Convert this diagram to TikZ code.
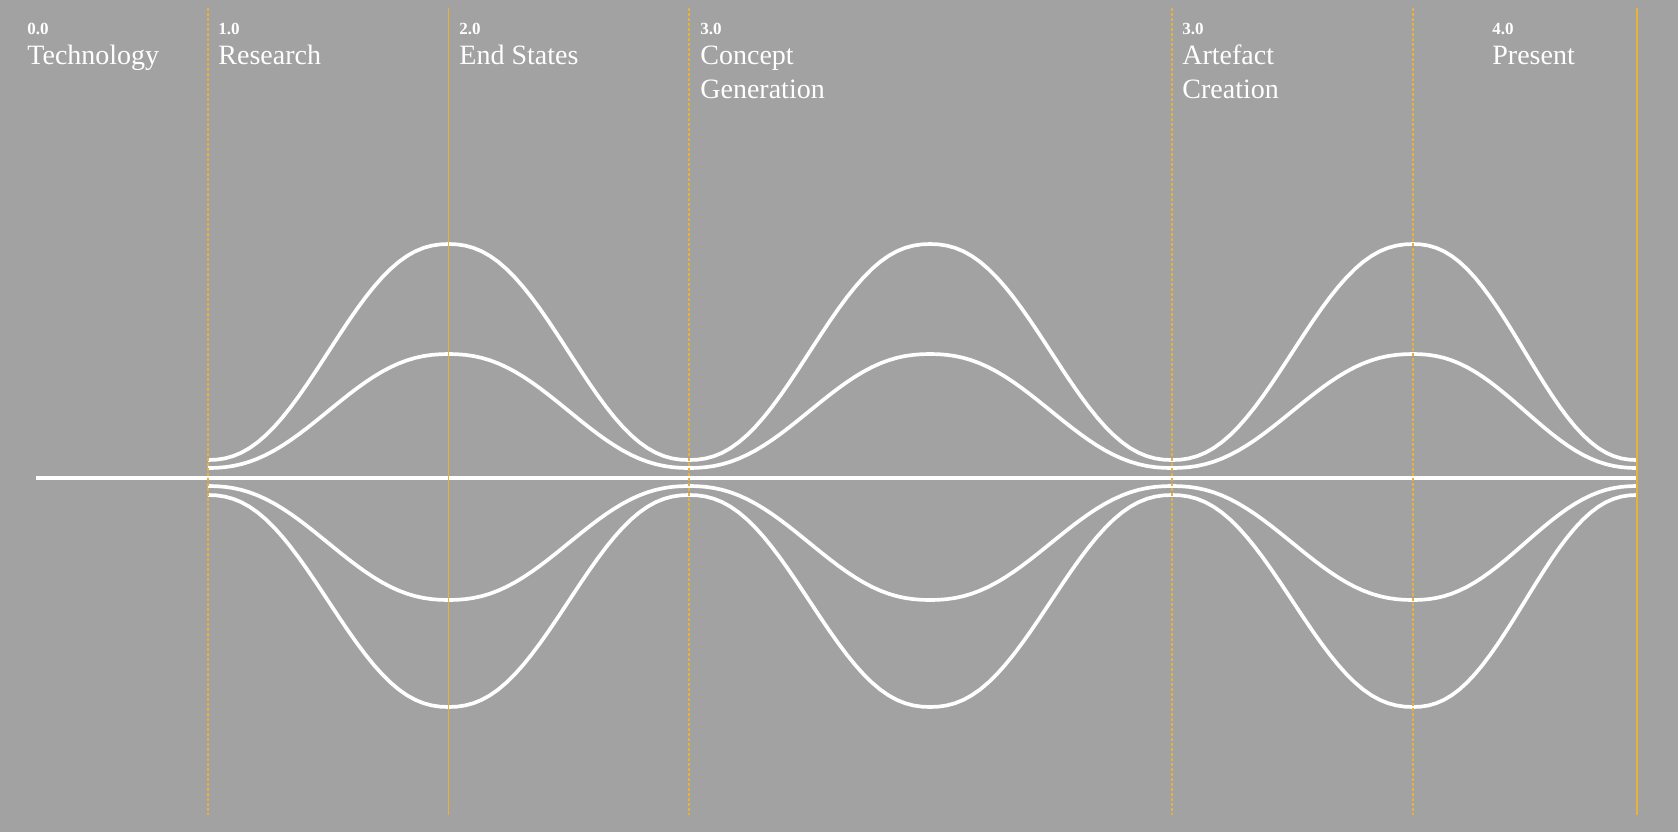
\documentclass[tikz,border=0pt]{standalone}
\usepackage{fontspec}
\setmainfont{Liberation Serif}
\usepackage{tikz}
\usetikzlibrary{positioning}

\definecolor{bggray}{RGB}{162,162,162}
\definecolor{gold}{RGB}{232,178,58}

\begin{document}
\begin{tikzpicture}[x=0.5pt, y=-0.5pt,
        declare function={ease(\t)=0.5*\t*\t*\t*(10-15*\t+6*\t*\t)+0.25*(1-cos(180*\t));},
        num/.style={anchor=base west, inner sep=0pt, text=white, font=\fontsize{8.5}{10}\selectfont\bfseries},
        phase/.style={anchor=base west, inner sep=0pt, text=white, align=left, font=\fontsize{14}{17}\selectfont},
        wave/.style={white, line width=1.85pt},
        axis/.style={white, line width=2pt},
        guide/.style={gold, line width=0.8pt, dash pattern=on 1.5pt off 1pt},
        mark line/.style={gold, line width=0.8pt}]
        \useasboundingbox (0,0) rectangle (1678,832);
        \fill[bggray] (0,0) rectangle (1678,832);

        % headings (base anchor sits on the last line)
        \node[num] (n0) at (27,34.7) {0.0};
        \node[phase] (p0) at (27,64.3) {Technology};
        \node[num] (n1) at (218,34.7) {1.0};
        \node[phase] (p1) at (218,64.3) {Research};
        \node[num] (n2) at (459,34.7) {2.0};
        \node[phase] (p2) at (459,64.3) {End States};
        \node[num] (n3) at (700,34.7) {3.0};
        \node[phase] (p3) at (700,98.3) {Concept\\Generation};
        \node[num] (n4) at (1182,34.7) {3.0};
        \node[phase] (p4) at (1182,98.3) {Artefact\\Creation};
        \node[num] (n5) at (1492,34.7) {4.0};
        \node[phase] (p5) at (1492,64.3) {Present};

        % waves
        \foreach \base/\peak in {460/244, 468/354, 486/600, 495/707}{
            \foreach \xa/\xb [count=\i] in {208/448.5, 448.5/689, 689/930, 930/1172, 1172/1413, 1413/1637}{
                \pgfmathsetmacro\dir{isodd(\i)}
                \draw[wave] plot[domain=0:1, samples=30]
                    ({\xa+\x*(\xb-\xa)}, {\base+(\peak-\base)*ease(\dir*\x+(1-\dir)*(1-\x))});
            }
        }

        \coordinate (start) at (36,478);
        \coordinate (stop) at (1637,478);
        \draw[axis] (start) -- (stop);

        % phase lines
        \draw[guide] (208,8) -- (208,815);
        \draw[mark line] (448.5,8) -- (448.5,815);
        \draw[guide] (689,8) -- (689,815);
        \draw[guide] (1172,8) -- (1172,815);
        \draw[guide] (1413,8) -- (1413,815);
        \draw[mark line, line width=1.1pt] (1637,8) -- (1637,815);
    \end{tikzpicture}
\end{document}
